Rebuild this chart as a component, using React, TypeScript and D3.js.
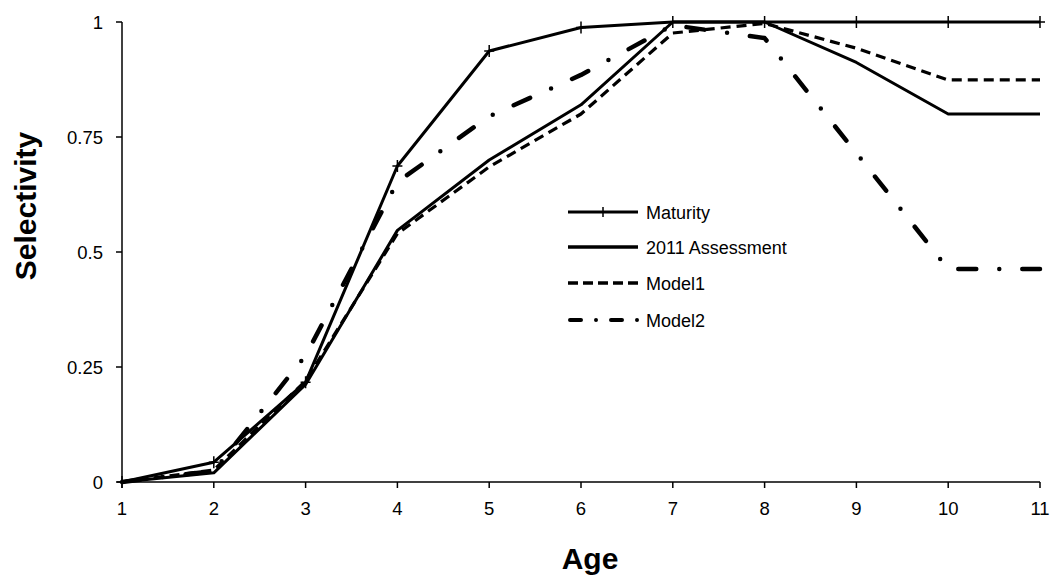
import React from "react";
import * as d3 from "d3";

const ages = [1, 2, 3, 4, 5, 6, 7, 8, 9, 10, 11];
const maturity = [0, 0.043, 0.217, 0.687, 0.937, 0.988, 1, 1, 1, 1, 1];
const assess2011 = [0, 0.02, 0.212, 0.547, 0.70, 0.82, 1, 1, 0.912, 0.80, 0.80];
const model1 = [0, 0.026, 0.22, 0.54, 0.685, 0.80, 0.976, 0.997, 0.943, 0.874, 0.874];
const model2 = [0, 0.024, 0.275, 0.652, 0.795, 0.885, 0.993, 0.965, 0.715, 0.463, 0.463];
const yTicks = [0, 0.25, 0.5, 0.75, 1];
const yTickLabels = ["0", "0.25", "0.5", "0.75", "1"];

const W = 1051, H = 576;
const FONT = "'Liberation Sans', Arial, sans-serif";

export default function App() {
  const x = d3.scaleLinear().domain([1, 11]).range([122, 1040]);
  const y = d3.scaleLinear().domain([0, 1]).range([482, 22]);
  const line = d3.line<number>().x((_, i) => x(ages[i])).y((v) => y(v));

  const series = [
    { name: "Maturity", data: maturity, width: 3, dash: undefined as string | undefined, cap: "butt", legDash: undefined as string | undefined, legW: 3 },
    { name: "2011 Assessment", data: assess2011, width: 3, dash: undefined, cap: "butt", legDash: undefined, legW: 3.5 },
    { name: "Model1", data: model1, width: 3.2, dash: "10 6", cap: "butt", legDash: "10 5", legW: 3.5 },
    { name: "Model2", data: model2, width: 4.5, dash: "18 23 0 23", cap: "round", legDash: "11 15 0 15", legW: 4 },
  ];
  const legendY = [212, 247, 283, 320];

  return (
    <svg width={W} height={H} style={{ position: "absolute", left: 0, top: 0, background: "#fff" }} fontFamily={FONT}>
      {/* axes */}
      <line x1={x(1)} x2={x(11)} y1={y(0)} y2={y(0)} stroke="#000" strokeWidth={1.5} />
      <line x1={x(1)} x2={x(1)} y1={y(0)} y2={y(1)} stroke="#000" strokeWidth={1.5} />
      {ages.map((a) => (
        <g key={"xt" + a}>
          <line x1={x(a)} x2={x(a)} y1={y(0)} y2={y(0) + 6} stroke="#000" strokeWidth={1.5} />
          <text x={x(a)} y={515} fontSize={18.5} textAnchor="middle" fill="#000">{a}</text>
        </g>
      ))}
      {yTicks.map((t, i) => (
        <g key={"yt" + t}>
          <line x1={x(1) - 6} x2={x(1)} y1={y(t)} y2={y(t)} stroke="#000" strokeWidth={1.5} />
          <text x={103} y={y(t) + 7} fontSize={18.5} textAnchor="end" fill="#000">{yTickLabels[i]}</text>
        </g>
      ))}
      <text x={590} y={569} fontSize={30} fontWeight="bold" textAnchor="middle">Age</text>
      <text transform="translate(36,206) rotate(-90)" fontSize={30} fontWeight="bold" textAnchor="middle">Selectivity</text>

      {/* series */}
      {series.map((s) => (
        <path key={s.name} d={line(s.data) || ""} fill="none" stroke="#000" strokeWidth={s.width}
          strokeDasharray={s.dash} strokeLinecap={s.cap as any} strokeLinejoin="round" />
      ))}
      {maturity.map((v, i) => (
        <path key={"m" + i} d={`M${x(ages[i]) - 5},${y(v)}H${x(ages[i]) + 5}M${x(ages[i])},${y(v) - 6}V${y(v) + 6}`}
          stroke="#000" strokeWidth={1.5} fill="none" />
      ))}

      {/* legend */}
      {series.map((s, i) => (
        <g key={"leg" + s.name}>
          <line x1={s.cap === "round" ? 570 : 568} x2={638} y1={legendY[i]} y2={legendY[i]} stroke="#000"
            strokeWidth={s.legW} strokeDasharray={s.legDash} strokeLinecap={s.cap as any} />
          {i === 0 && (
            <line x1={603} x2={603} y1={legendY[i] - 5} y2={legendY[i] + 5} stroke="#000" strokeWidth={1.5} />
          )}
          <text x={646} y={legendY[i] + 6.5} fontSize={18} fill="#000">{s.name}</text>
        </g>
      ))}
    </svg>
  );
}
